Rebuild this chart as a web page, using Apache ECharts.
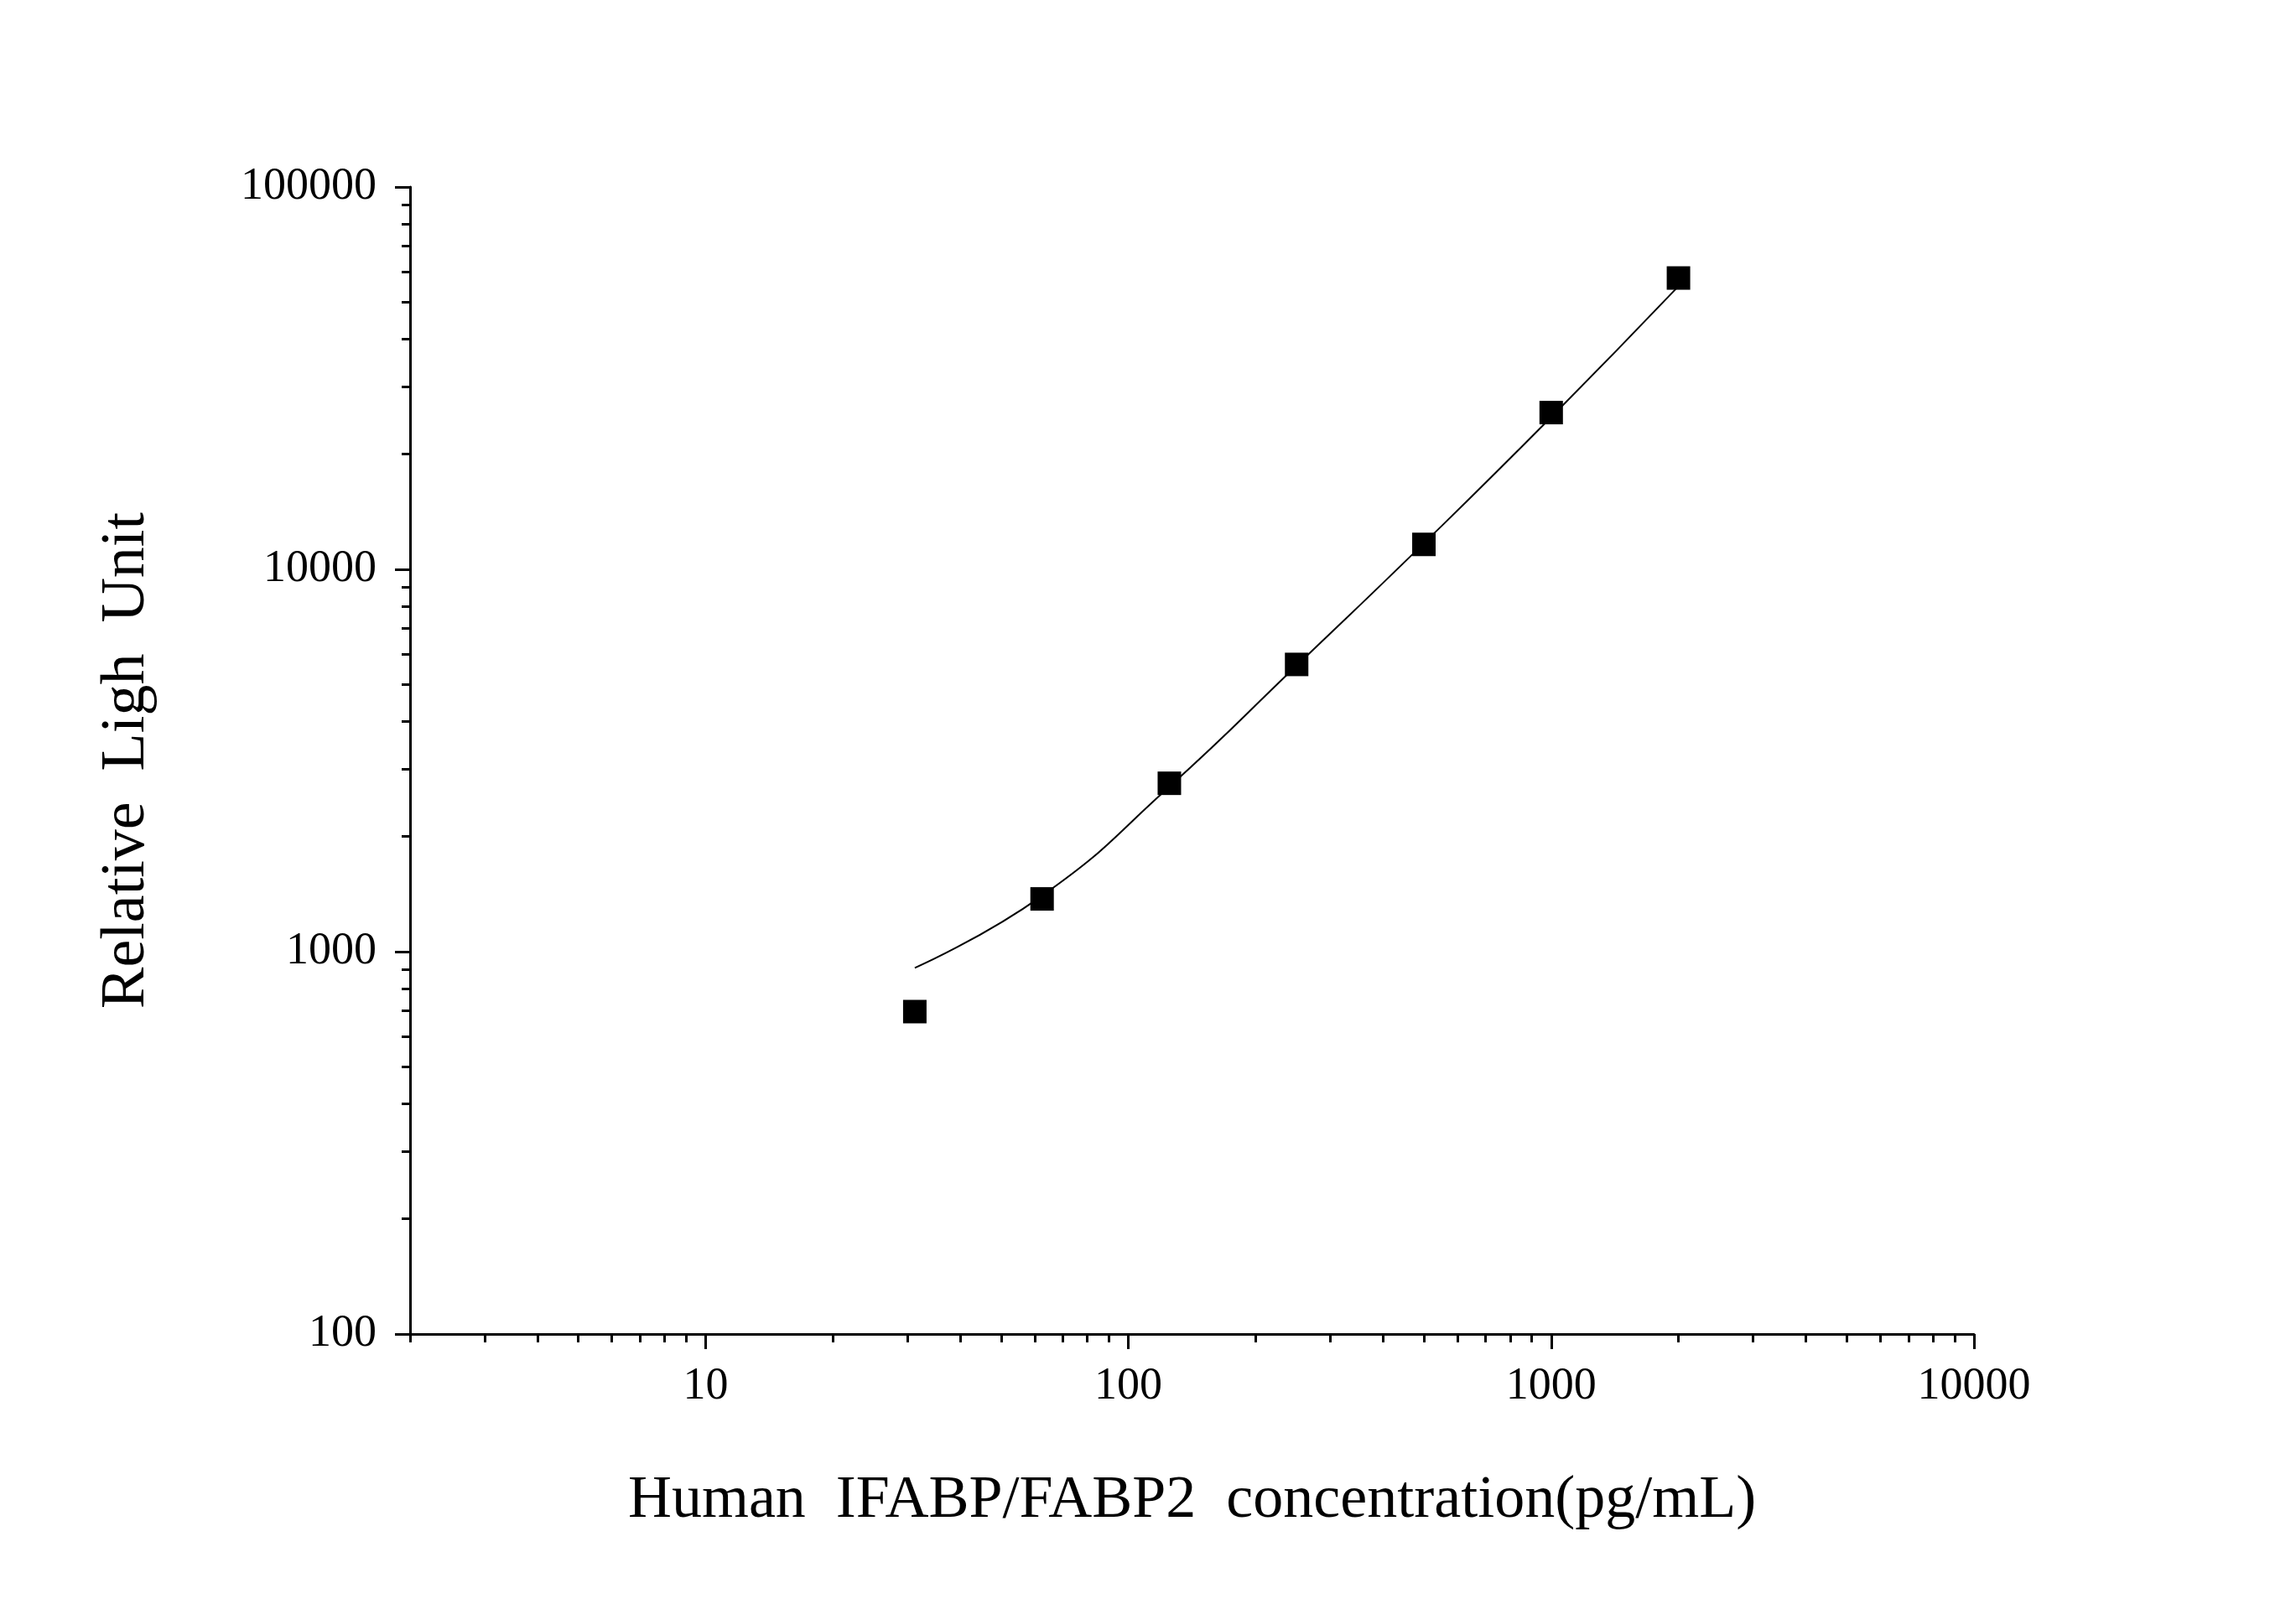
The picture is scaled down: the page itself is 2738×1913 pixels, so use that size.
<!DOCTYPE html>
<html><head><meta charset="utf-8">
<script src="https://cdn.jsdelivr.net/npm/echarts@6/dist/echarts.min.js"></script>
<style>html,body{margin:0;padding:0;background:#fff}#c{width:2738px;height:1913px}</style>
</head><body><div id="c"></div>
<script>
const concentrations = [31.25, 62.5, 125, 250, 500, 1000, 2000];
const rlu = [697, 1374, 2757, 5640, 11620, 25700, 57800];
const fitRlu = [907, 1400, 2700, 5600, 11700, 25000, 55000];
const xTickLabels = [10, 100, 1000, 10000];
const yTickLabels = [100, 1000, 10000, 100000];

const L = Math.log10;
function minors(a, b) { const r = []; for (let e = a; e < b; e++) for (let k = 2; k <= 9; k++) { r.push(L(k * Math.pow(10, e))); } return r; }
const xMin = L(2), xMax = 4, yMin = 2, yMax = 5;
const xMajor = xTickLabels.map(L), yMajor = yTickLabels.map(L);
const xMinor = minors(0, 4).filter(v => v >= xMin - 1e-9 && v <= xMax);
const yMinor = minors(2, 5);
const font = '"Liberation Serif", "DejaVu Serif", serif';
const fmt = v => String(Math.round(Math.pow(10, v)));

const baseX = { type: 'value', min: xMin, max: xMax, splitLine: { show: false } };
const baseY = { type: 'value', min: yMin, max: yMax, splitLine: { show: false } };

const chart = echarts.init(document.getElementById('c'));
chart.setOption({
  backgroundColor: '#fff',
  animation: false,
  grid: { left: 489, right: 384, top: 223, bottom: 322 },
  xAxis: [
    Object.assign({}, baseX, {
      name: 'Human  IFABP/FABP2  concentration(pg/mL)', nameLocation: 'middle', nameGap: 163,
      nameTextStyle: { fontFamily: font, fontSize: 72, color: '#000' },
      axisLine: { lineStyle: { color: '#000', width: 3 } },
      axisTick: { show: true, length: 18, lineStyle: { color: '#000', width: 3 }, customValues: xMajor },
      axisLabel: { customValues: xMajor, formatter: fmt, fontFamily: font, fontSize: 54, color: '#000', margin: 36 }
    }),
    Object.assign({}, baseX, {
      position: 'bottom',
      axisLine: { show: false },
      axisTick: { show: true, length: 10, lineStyle: { color: '#000', width: 3 }, customValues: xMinor },
      axisLabel: { show: false }
    })
  ],
  yAxis: [
    Object.assign({}, baseY, {
      name: 'Relative  Ligh  Unit', nameLocation: 'middle', nameGap: 300,
      nameTextStyle: { fontFamily: font, fontSize: 74, color: '#000' },
      axisLine: { lineStyle: { color: '#000', width: 3 } },
      axisTick: { show: true, length: 18, lineStyle: { color: '#000', width: 3 }, customValues: yMajor },
      axisLabel: { customValues: yMajor, formatter: fmt, fontFamily: font, fontSize: 54, color: '#000', margin: 40 }
    }),
    Object.assign({}, baseY, {
      position: 'left',
      axisLine: { show: false },
      axisTick: { show: true, length: 10, lineStyle: { color: '#000', width: 3 }, customValues: yMinor },
      axisLabel: { show: false }
    })
  ],
  series: [
    {
      type: 'line', smooth: true, symbol: 'none',
      lineStyle: { color: '#000', width: 2 },
      data: concentrations.map((c, i) => [L(c), L(fitRlu[i])])
    },
    {
      type: 'scatter', symbol: 'rect', symbolSize: 28,
      itemStyle: { color: '#000', opacity: 1 },
      data: concentrations.map((c, i) => [L(c), L(rlu[i])])
    }
  ]
});
</script></body></html>
